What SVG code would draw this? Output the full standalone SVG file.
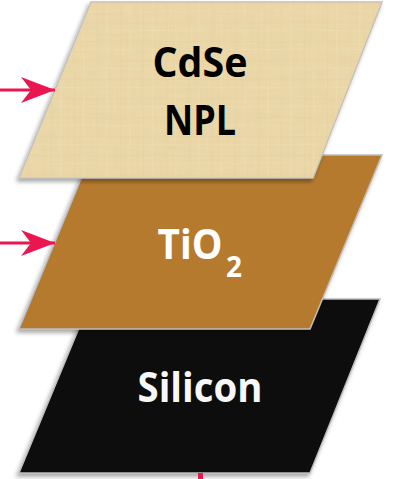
<svg xmlns="http://www.w3.org/2000/svg" width="397" height="479" viewBox="0 0 397 479">
<style>
.layer{stroke:#bdbdbd;stroke-width:1.5;filter:url(#sh)}
.lbl{font-family:"Open Sans","Liberation Sans",sans-serif;font-weight:700;font-size:42px;text-anchor:middle}
.conn{stroke:#ea1650;stroke-width:3;fill:none}
</style>
<defs>
<filter id="sh" x="-10%" y="-10%" width="120%" height="125%">
<feDropShadow dx="-2" dy="3" stdDeviation="2" flood-color="#000" flood-opacity="0.35"/>
</filter>
<filter id="tex" x="0" y="0" width="1" height="1">
<feTurbulence type="fractalNoise" baseFrequency="0.3 0.03" numOctaves="2" seed="4" result="v"/>
<feTurbulence type="fractalNoise" baseFrequency="0.03 0.3" numOctaves="2" seed="9" result="h"/>
<feBlend in="v" in2="h" mode="multiply" result="m"/>
<feColorMatrix in="m" type="matrix" values="0 0 0 0 0.78  0 0 0 0 0.64  0 0 0 0 0.38  0 0 0 0.9 -0.22" result="c"/>
<feComposite in="c" in2="SourceGraphic" operator="in"/>
</filter>
<pattern id="pap" width="23" height="19" patternUnits="userSpaceOnUse">
<rect width="23" height="19" fill="#eedaa8"/>
<rect x="0" y="3" width="23" height="1.2" fill="#dcc28a" opacity="0.25"/>
<rect x="0" y="11" width="23" height="0.8" fill="#f6e8c0" opacity="0.5"/>
<rect x="5" y="0" width="1" height="19" fill="#dcc48d" opacity="0.25"/>
<rect x="14" y="0" width="1.3" height="19" fill="#f6e8c0" opacity="0.5"/>
</pattern>
<marker id="ah" viewBox="0 0 34 26" refX="34" refY="13" markerWidth="34" markerHeight="26" markerUnits="userSpaceOnUse" orient="auto">
<path d="M0,0 L34,13 L0,26 L10,13 Z" fill="#ea1650"/>
</marker>
</defs>
<g id="silicon">
<polygon class="layer" points="91,299 380,299 310,473 19,473" fill="#0b0b0b"/>
<text class="lbl" x="200" y="402" fill="#f7f7f7" textLength="125" lengthAdjust="spacingAndGlyphs">Silicon</text>
</g>
<g id="tio2">
<polygon class="layer" points="91,155 382,155 310,329 19,329" fill="#b57a2e"/>
<text class="lbl" x="190" y="259" fill="#ffffff" textLength="65" lengthAdjust="spacingAndGlyphs">TiO</text>
<text x="234" y="277" fill="#ffffff" style="font-family:'Open Sans','Liberation Sans',sans-serif;font-weight:700;font-size:28px;text-anchor:middle">2</text>
</g>
<g id="cdse">
<polygon class="layer" points="91,2 382,2 313,178 19,178" fill="url(#pap)"/>
<polygon points="91,2 382,2 313,178 19,178" fill="#000" filter="url(#tex)"/>
<text class="lbl" x="200" y="77" fill="#000" textLength="95" lengthAdjust="spacingAndGlyphs">CdSe</text>
<text class="lbl" x="200" y="135" fill="#000" textLength="72" lengthAdjust="spacingAndGlyphs">NPL</text>
</g>
<g id="connectors">
<line class="conn" x1="0" y1="90" x2="55" y2="90" marker-end="url(#ah)"/>
<line class="conn" x1="0" y1="243" x2="55" y2="243" marker-end="url(#ah)"/>
<rect x="198" y="473" width="5" height="6" fill="#ea1650"/>
</g>
</svg>
